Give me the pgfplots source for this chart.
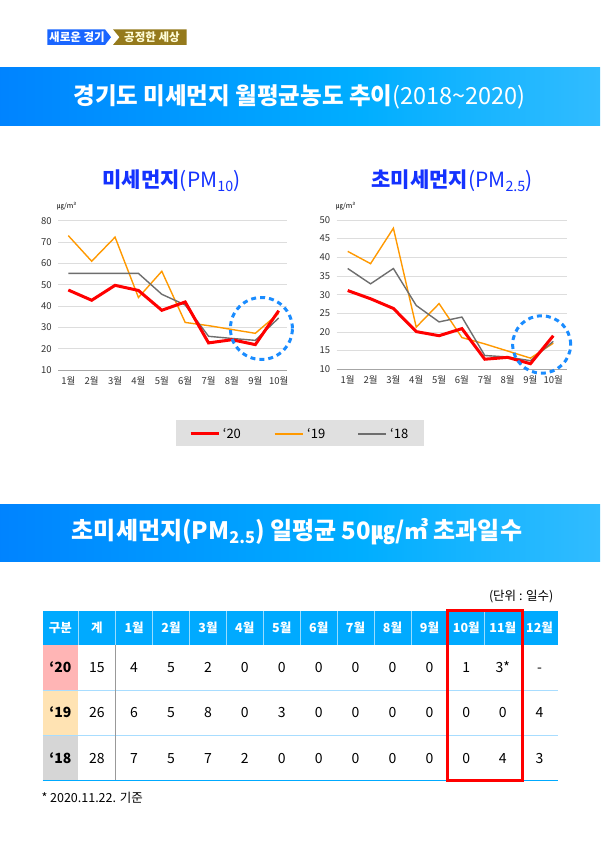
\documentclass[border=0pt]{standalone}
\usepackage{fontspec}
\setmainfont{Noto Sans CJK KR}
\usepackage{graphicx}
\usepackage{pgfplots}
\pgfplotsset{compat=1.18}

\definecolor{y20}{HTML}{FF0000}
\definecolor{y19}{HTML}{FF9900}
\definecolor{y18}{HTML}{6E6E6E}
\definecolor{gridc}{HTML}{DDDDDD}
\definecolor{ttl}{HTML}{1432FF}
\definecolor{ring}{HTML}{1A8CFF}
\definecolor{hd1}{HTML}{0060FF}
\definecolor{hd2}{HTML}{00AEFF}
\definecolor{hd3}{HTML}{6ECDFF}
\definecolor{thead}{HTML}{00AAFF}
\definecolor{tline}{HTML}{A8DDFF}
\definecolor{r20}{HTML}{FFB5B5}
\definecolor{r19}{HTML}{FFE3B3}
\definecolor{r18}{HTML}{D6D6D6}
\definecolor{tagblue}{HTML}{1A66FF}
\definecolor{taggold}{HTML}{957A1C}
\definecolor{legbg}{HTML}{E0E0E0}

\pgfdeclarehorizontalshading{hbar}{100bp}{color(0bp)=(hd1); color(55bp)=(hd2); color(100bp)=(hd3)}

\newcommand{\sub}[1]{\raisebox{-0.3ex}{\scalebox{0.68}{#1}}}
\newcommand{\fs}[1]{\fontsize{#1}{#1}\selectfont}

% monthly means, ug/m3
\pgfplotstableread{
m  r20   r19   r18
1  47.5  73.0  55.3
2  42.7  61.0  55.3
3  49.7  72.3  55.3
4  47.3  44.0  55.3
5  38.0  56.3  45.5
6  41.9  32.3  40.5
7  22.7  30.8  25.8
8  24.2  29.0  24.8
9  21.9  27.2  23.9
10 37.8  36.6  34.4
}\pmten
\pgfplotstableread{
m  r20   r19   r18
1  31.1  41.6  37.0
2  28.9  38.3  32.9
3  26.3  47.8  37.0
4  20.1  21.3  27.1
5  19.0  27.6  22.7
6  20.9  18.5  24.0
7  12.7  16.8  13.7
8  13.2  14.9  13.3
9  11.5  13.0  12.3
10 19.0  17.0  17.5
}\pmtwo

\pgfplotsset{
  dust/.style={
    scale only axis, anchor=south west,
    axis x line*=bottom, axis y line*=left,
    x axis line style={draw=black!35},
    y axis line style={draw=none},
    ymajorgrids, major grid style={gridc, line width=0.8pt},
    major tick length=0pt,
    xtick={1,...,10},
    xticklabels={1월,2월,3월,4월,5월,6월,7월,8월,9월,10월},
    tick label style={font=\fs{9.5}, text=black!80},
    xticklabel style={yshift=-3pt},
    yticklabel style={xshift=-3pt},
    /pgf/number format/assume math mode=true,
    clip=false,
  },
}

\begin{document}
\begin{tikzpicture}[x=1pt,y=1pt]
\useasboundingbox (0,0) rectangle (600,-850);
\fill[white] (0,0) rectangle (600,-850);

% top tag
\fill[tagblue] (47.3,-29.3) -- (105,-29.3) -- (111,-37.2) -- (105,-45) -- (47.3,-45) -- cycle;
\fill[taggold] (113,-29.3) -- (186.7,-29.3) -- (186.7,-45) -- (113,-45) -- (119.5,-37.2) -- cycle;
\node[white, font=\bfseries\fs{11.5}] at (77,-37.4) {새로운 경기};
\node[yellow!15, font=\bfseries\fs{11.5}] at (152,-37.4) {공정한 세상};

% header 1
\shade[shading=hbar] (0,-68) rectangle (600,-126);
\node[white, font=\fs{23.5}] at (299.5,-97) {\textbf{경기도 미세먼지 월평균농도 추이}(2018\textasciitilde2020)};

% chart titles
\node[ttl, font=\fs{21}] at (171.5,-181) {\textbf{미세먼지}(PM\sub{10})};
\node[ttl, font=\fs{21}] at (452,-181) {\textbf{초미세먼지}(PM\sub{2.5})};
\node[anchor=west, font=\fs{7}, inner sep=0] at (57,-206) {㎍/m³};
\node[anchor=west, font=\fs{7}, inner sep=0] at (336,-206) {㎍/m³};

% PM10
\begin{axis}[dust, at={(58.3pt,-370pt)}, width=229pt, height=149.3pt,
  xmin=0.572, xmax=10.368, ymin=10, ymax=80, ytick={10,20,...,80}]
\addplot[y19, line width=1.4pt] table[x=m, y=r19] {\pmten};
\addplot[y18, line width=1.4pt] table[x=m, y=r18] {\pmten};
\addplot[y20, line width=3pt] table[x=m, y=r20] {\pmten};
\coordinate (e1) at (axis cs:9.26,29.46);
\end{axis}
\draw[ring, line width=3pt, dash pattern=on 5pt off 4pt] (e1) ellipse [x radius=31pt, y radius=31pt];

% PM2.5
\begin{axis}[dust, at={(336.7pt,-369.3pt)}, width=230pt, height=149.3pt,
  xmin=0.518, xmax=10.587, ymin=10, ymax=50, ytick={10,15,...,50}]
\addplot[y19, line width=1.4pt] table[x=m, y=r19] {\pmtwo};
\addplot[y18, line width=1.4pt] table[x=m, y=r18] {\pmtwo};
\addplot[y20, line width=3pt] table[x=m, y=r20] {\pmtwo};
\coordinate (e2) at (axis cs:9.49,16.64);
\end{axis}
\draw[ring, line width=3pt, dash pattern=on 5pt off 4pt] (e2) ellipse [x radius=29pt, y radius=28.7pt];

% legend
\fill[legbg] (176,-420) rectangle (424,-446);
\draw[y20, line width=2.5pt] (190.7,-433.5) -- (219.3,-433.5);
\draw[y19, line width=2pt] (274.7,-433.5) -- (303,-433.5);
\draw[y18, line width=2pt] (358,-433.5) -- (386,-433.5);
\node[anchor=west, font=\fs{13}, inner sep=0] at (222.7,-433.5) {‘20};
\node[anchor=west, font=\fs{13}, inner sep=0] at (307,-433.5) {‘19};
\node[anchor=west, font=\fs{13}, inner sep=0] at (390,-433.5) {‘18};

% header 2
\shade[shading=hbar] (0,-504) rectangle (600,-561);
\node[white, font=\bfseries\fs{24}] at (297,-532) {초미세먼지(PM\sub{2.5}) 일평균 50㎍/㎥ 초과일수};

% table
\node[anchor=east, font=\fs{12.5}] at (557,-597) {(단위 : 일수)};
\fill[thead] (42.5,-611.4) rectangle (557.9,-644.6);
\fill[r20] (42.5,-644.6) rectangle (78.2,-690);
\fill[r19] (42.5,-690) rectangle (78.2,-735.7);
\fill[r18] (42.5,-735.7) rectangle (78.2,-780.4);
\foreach \x in {78.2,115.7,152.5,189.6,226.4,263.2,300.4,337.1,373.9,411.1,447.9,484.6,521.1}
  \draw[white!60!thead, line width=0.6pt] (\x,-611.4) -- (\x,-644.6);
\draw[tline, line width=1pt] (42.5,-690) -- (557.9,-690);
\draw[tline, line width=1pt] (42.5,-735.7) -- (557.9,-735.7);
\draw[thead, line width=1.3pt] (42.5,-780.4) -- (557.9,-780.4);
\draw[black!40, line width=0.8pt] (115.7,-644.6) -- (115.7,-780.4);
\foreach \x/\t in {60.35/구분, 96.95/계, 134.1/1월, 171.05/2월, 208/3월, 244.8/4월, 281.8/5월,
  318.75/6월, 355.5/7월, 392.5/8월, 429.5/9월, 466.25/10월, 502.85/11월, 539.5/12월}
  \node[white, font=\bfseries\fs{12.5}, anchor=base] at (\x,-632.5) {\t};
\node[font=\bfseries\fs{14}, anchor=base] at (60.35,-672.3) {‘20};
\node[font=\bfseries\fs{14}, anchor=base] at (60.35,-717.9) {‘19};
\node[font=\bfseries\fs{14}, anchor=base] at (60.35,-763) {‘18};
\foreach \x/\a/\b/\c in {96.95/15/26/28, 134.1/4/6/7, 171.05/5/5/5, 208/2/8/7, 244.8/0/0/2,
  281.8/0/3/0, 318.75/0/0/0, 355.5/0/0/0, 392.5/0/0/0, 429.5/0/0/0, 466.25/1/0/0,
  502.85/3*/0/4, 539.5/-/4/3} {
  \node[font=\fs{14}, anchor=base] at (\x,-672.3) {\a};
  \node[font=\fs{14}, anchor=base] at (\x,-717.9) {\b};
  \node[font=\fs{14}, anchor=base] at (\x,-763) {\c};
}
\draw[red, line width=3pt] (447.1,-610) rectangle (522.1,-780.4);
\node[anchor=west, font=\fs{12.5}] at (38,-798) {* 2020.11.22. 기준};
\end{tikzpicture}
\end{document}
